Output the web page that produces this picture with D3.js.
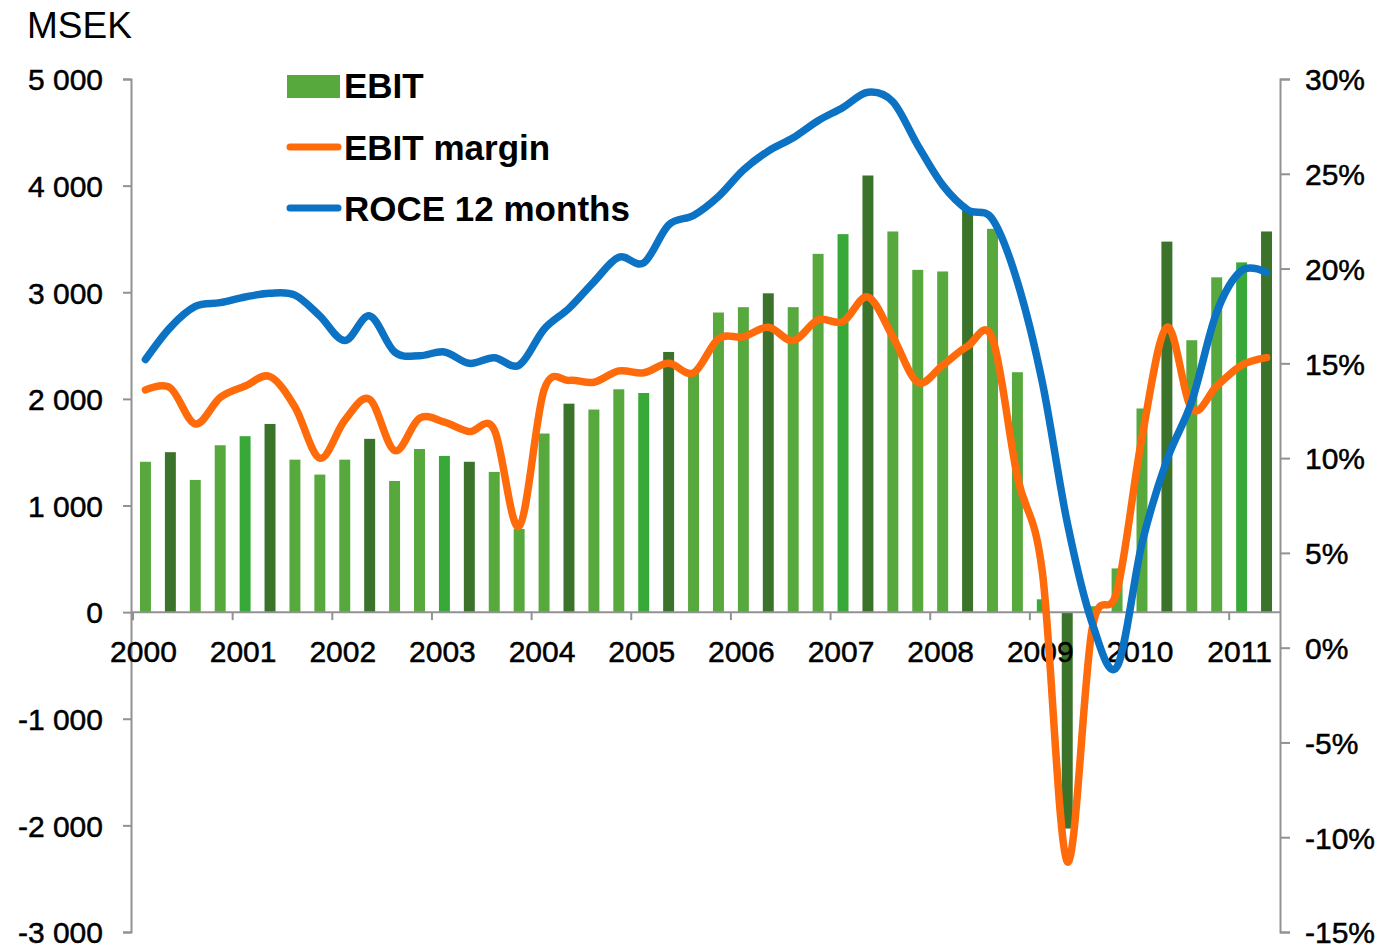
<!DOCTYPE html>
<html>
<head>
    <title>EBIT, EBIT margin and ROCE</title>
    <meta charset="utf-8">
    <script src="https://cdn.jsdelivr.net/npm/d3@7"></script>
    <style>
        body { margin: 0; background: #fff; }
        svg { font-family: "Liberation Sans", Arial, sans-serif; }
        .axis path, .axis line { stroke: #929292; stroke-width: 2px; }
        .axis text { fill: #000; font-size: 30px; stroke: #000; stroke-width: 0.5px; }
        .legend text { font-size: 35px; font-weight: bold; fill: #000; }
        path.line { fill: none; stroke-width: 7.5px; stroke-linejoin: round; stroke-linecap: round; }
    </style>
</head>
<body>
    <svg width="1384" height="948"></svg>

    <script>
        // quarterly categories, 2000 Q1 .. 2011 Q2
        var quarters = [
            "2000Q1","2000Q2","2000Q3","2000Q4","2001Q1","2001Q2","2001Q3","2001Q4",
            "2002Q1","2002Q2","2002Q3","2002Q4","2003Q1","2003Q2","2003Q3","2003Q4",
            "2004Q1","2004Q2","2004Q3","2004Q4","2005Q1","2005Q2","2005Q3","2005Q4",
            "2006Q1","2006Q2","2006Q3","2006Q4","2007Q1","2007Q2","2007Q3","2007Q4",
            "2008Q1","2008Q2","2008Q3","2008Q4","2009Q1","2009Q2","2009Q3","2009Q4",
            "2010Q1","2010Q2","2010Q3","2010Q4","2011Q1","2011Q2"
        ];
        var yearLabels = ["2000","2001","2002","2003","2004","2005","2006","2007","2008","2009","2010","2011"];

        // EBIT, MSEK
        var ebit = [
            1410, 1500, 1240, 1565, 1650, 1765, 1430, 1290,
            1430, 1625, 1230, 1530, 1465, 1410, 1315, 780,
            1675, 1955, 1900, 2090, 2055, 2440, 2250, 2810,
            2860, 2990, 2860, 3360, 3545, 4095, 3570, 3210,
            3195, 3785, 3595, 2250, 120, -2030, 55, 410,
            1910, 3475, 2550, 3140, 3280, 3570
        ];

        // EBIT margin, %
        var ebitMargin = [
            13.6, 13.7, 11.8, 13.2, 13.8, 14.3, 12.7, 10.0,
            12.0, 13.1, 10.4, 12.1, 11.9, 11.4, 11.5, 6.4,
            13.6, 14.1, 14.0, 14.6, 14.5, 15.0, 14.5, 16.3,
            16.4, 16.9, 16.2, 17.3, 17.2, 18.5, 16.4, 14.0,
            14.9, 15.9, 16.3, 9.0, 4.0, -11.3, 1.0, 3.0,
            11.1, 16.9, 12.6, 13.8, 14.9, 15.3
        ];

        // ROCE 12 months, %
        var roce = [
            15.2, 16.9, 18.0, 18.2, 18.5, 18.7, 18.6, 17.5,
            16.2, 17.5, 15.6, 15.4, 15.6, 15.0, 15.3, 14.9,
            16.8, 17.9, 19.3, 20.6, 20.3, 22.3, 22.8, 23.8,
            25.2, 26.2, 26.9, 27.8, 28.5, 29.3, 28.8, 26.5,
            24.4, 23.1, 22.6, 19.3, 14.0, 6.6, 1.3, -1.0,
            5.5, 9.9, 13.0, 17.7, 19.9, 19.8
        ];

        var leftTicks = [-3000, -2000, -1000, 0, 1000, 2000, 3000, 4000, 5000];
        var rightTicks = [-15, -10, -5, 0, 5, 10, 15, 20, 25, 30];

        var colDark = "#3a7329", colBright = "#38a938", colMid = "#57a93e";
        var colOrange = "#ff6a0a", colBlue = "#0b72c4";

        var svg = d3.select("svg");
        var plotLeft = 131, plotRight = 1280, plotTop = 79, plotBottom = 932;

        var x = d3.scaleBand().domain(quarters).range([133, 1279]).paddingInner(0.56).paddingOuter(0.28);
        var yL = d3.scaleLinear().domain([-3000, 5000]).range([plotBottom, plotTop]);
        var yR = d3.scaleLinear().domain([-15, 30]).range([plotBottom, plotTop]);

        function barColor(q)
        {
            var yr = +q.slice(0, 4), qq = q.slice(4);
            if (qq == "Q2") return colDark;
            if (qq == "Q1" && yr % 2 == 1) return colBright;
            return colMid;
        }

        // bars
        svg.append("g")
            .selectAll("rect")
            .data(quarters)
            .enter().append("rect")
            .attr("x", function (d) { return x(d); })
            .attr("width", x.bandwidth())
            .attr("y", function (d, i) { return yL(Math.max(0, ebit[i])); })
            .attr("height", function (d, i) { return Math.abs(yL(ebit[i]) - yL(0)); })
            .attr("fill", barColor);

        function fmtLeft(d)
        {
            return (d < 0 ? "-" : "") + d3.format(",")(Math.abs(d)).replace(/,/g, " ");
        }

        // left axis
        var gL = svg.append("g").attr("class", "axis")
            .attr("transform", "translate(" + plotLeft + ",0)")
            .call(d3.axisLeft(yL).tickValues(leftTicks).tickSize(8).tickSizeOuter(8).tickPadding(20).tickFormat(fmtLeft));
        gL.selectAll("text").attr("dy", "0.36em");

        // right axis
        var gR = svg.append("g").attr("class", "axis")
            .attr("transform", "translate(" + plotRight + ",0)")
            .call(d3.axisRight(yR).tickValues(rightTicks).tickSize(10).tickSizeOuter(10).tickPadding(15)
                .tickFormat(function (d) { return (d < 0 ? "-" : "") + Math.abs(d) + "%"; }));
        gR.selectAll("text").attr("dy", "0.36em");

        // category axis at zero
        var gX = svg.append("g").attr("class", "axis");
        gX.append("line")
            .attr("x1", plotLeft).attr("x2", plotRight)
            .attr("y1", yL(0)).attr("y2", yL(0));
        var step = x.step();
        gX.selectAll("line.tick")
            .data(yearLabels)
            .enter().append("line")
            .attr("class", "tick")
            .attr("x1", function (d) { return x(d + "Q1") - (step - x.bandwidth()) / 2; })
            .attr("x2", function (d) { return x(d + "Q1") - (step - x.bandwidth()) / 2; })
            .attr("y1", yL(0)).attr("y2", yL(0) + 8);
        gX.selectAll("text")
            .data(yearLabels)
            .enter().append("text")
            .attr("x", function (d) { return x(d + "Q1") + x.bandwidth() / 2 - 2; })
            .attr("y", yL(0) + 50)
            .attr("text-anchor", "middle")
            .text(function (d) { return d; });

        // unit label
        svg.append("text")
            .attr("x", 27).attr("y", 38)
            .attr("font-size", "37px")
            .text("MSEK");

        // lines
        var cx = function (d, i) { return x(quarters[i]) + x.bandwidth() / 2; };
        var pctLine = d3.line().curve(d3.curveCardinal.tension(0)).x(cx).y(function (d) { return yR(d); });

        svg.append("path").datum(ebitMargin)
            .attr("class", "line")
            .attr("stroke", colOrange)
            .attr("d", pctLine);

        svg.append("path").datum(roce)
            .attr("class", "line")
            .attr("stroke", colBlue)
            .attr("d", pctLine);

        // legend
        var legend = svg.append("g").attr("class", "legend");
        legend.append("rect").attr("x", 287).attr("y", 75).attr("width", 53).attr("height", 23).attr("fill", colMid);
        legend.append("text").attr("x", 344).attr("y", 98).text("EBIT");
        legend.append("line").attr("x1", 290).attr("x2", 338).attr("y1", 147).attr("y2", 147)
            .attr("stroke", colOrange).attr("stroke-width", 7).attr("stroke-linecap", "round");
        legend.append("text").attr("x", 344).attr("y", 160).text("EBIT margin");
        legend.append("line").attr("x1", 290).attr("x2", 338).attr("y1", 208).attr("y2", 208)
            .attr("stroke", colBlue).attr("stroke-width", 7).attr("stroke-linecap", "round");
        legend.append("text").attr("x", 344).attr("y", 221).text("ROCE 12 months");
    </script>
</body>
</html>
